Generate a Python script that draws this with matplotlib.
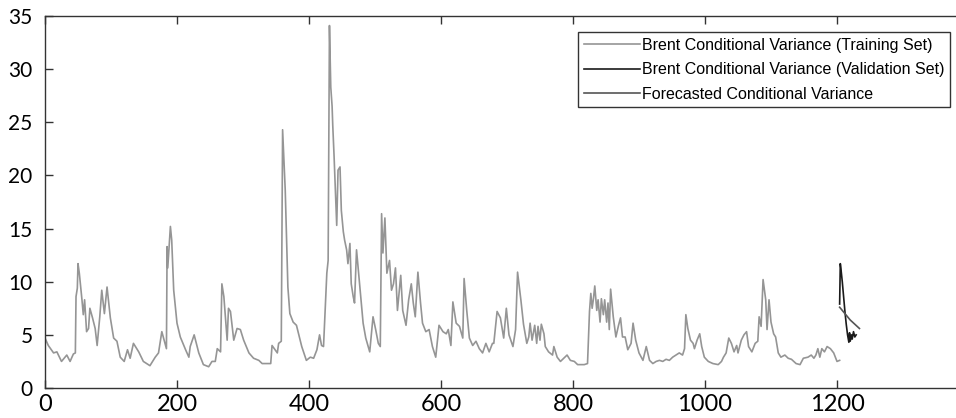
import matplotlib
matplotlib.use("Agg")
import matplotlib.pyplot as plt

# Varianza condicional Brent - conjunto de entrenamiento (vertices)
train_x = [0, 5, 13, 18, 25, 33, 38, 43, 46, 47, 49, 50, 52, 56, 58, 60, 63, 66, 68, 72,
           76, 79, 83, 86, 90, 94, 99, 104, 109, 114, 120, 125, 129, 134, 142, 149, 159, 167, 172, 177,
           184, 185, 186, 190, 192, 195, 200, 205, 213, 218, 220, 226, 233, 240, 248, 253, 258, 261, 266, 268,
           271, 276, 278, 281, 286, 291, 296, 301, 309, 316, 324, 329, 342, 344, 352, 354, 358, 360, 364, 368,
           371, 376, 381, 389, 396, 402, 407, 412, 416, 419, 422, 427, 429, 431, 433, 435, 436, 438, 442, 444,
           447, 449, 452, 454, 457, 459, 462, 464, 467, 469, 472, 477, 482, 486, 492, 497, 501, 505, 508, 510,
           512, 515, 518, 522, 525, 528, 531, 534, 539, 542, 547, 551, 555, 558, 561, 565, 569, 572, 577, 582,
           587, 592, 597, 603, 608, 611, 615, 618, 623, 628, 633, 635, 639, 643, 648, 653, 658, 663, 668, 673,
           678, 680, 685, 690, 695, 699, 703, 709, 713, 716, 721, 725, 730, 733, 735, 738, 742, 745, 747, 750,
           752, 756, 758, 763, 769, 771, 776, 781, 791, 796, 802, 807, 817, 822, 825, 827, 829, 831, 833, 836,
           838, 841, 843, 846, 848, 851, 853, 855, 857, 861, 865, 869, 872, 875, 879, 883, 888, 891, 895, 900,
           906, 911, 916, 921, 926, 931, 936, 941, 946, 951, 956, 961, 966, 969, 971, 974, 978, 982, 984, 988,
           992, 995, 999, 1005, 1012, 1020, 1025, 1028, 1032, 1036, 1040, 1044, 1048, 1050, 1055, 1059, 1063, 1066, 1071, 1076,
           1080, 1082, 1085, 1088, 1092, 1094, 1097, 1100, 1104, 1107, 1111, 1115, 1121, 1126, 1131, 1138, 1144, 1149, 1156, 1161,
           1165, 1168, 1171, 1174, 1177, 1181, 1185, 1190, 1195, 1200, 1204]
train_y = [4.7, 4.0, 3.3, 3.4, 2.5, 3.1, 2.5, 3.2, 3.3, 8.6, 9.4, 11.7, 10.8, 8.3, 6.9, 8.3, 5.3, 5.6, 7.5, 6.6,
           5.6, 4.0, 6.7, 9.2, 7.0, 9.5, 6.6, 4.7, 4.4, 2.9, 2.5, 3.6, 2.8, 4.2, 3.4, 2.5, 2.1, 2.9, 3.3, 5.3,
           3.7, 13.3, 11.3, 15.2, 13.9, 9.2, 6.1, 4.8, 3.6, 2.9, 3.9, 5.0, 3.3, 2.2, 2.0, 2.5, 2.5, 3.7, 3.4, 9.8,
           8.6, 4.5, 7.5, 7.2, 4.5, 5.6, 5.5, 4.5, 3.3, 2.8, 2.6, 2.3, 2.3, 4.0, 3.3, 4.2, 4.4, 24.3, 18.6, 9.5,
           7.0, 6.2, 5.9, 3.9, 2.6, 2.9, 2.8, 3.6, 5.0, 4.0, 3.9, 10.8, 12.0, 34.1, 28.3, 26.5, 24.7, 21.8, 15.3, 20.5,
           20.8, 16.7, 14.7, 13.9, 13.0, 11.7, 13.6, 9.8, 8.6, 8.0, 13.0, 9.5, 6.1, 4.7, 3.4, 6.7, 5.5, 4.2, 3.9, 16.4,
           12.7, 16.0, 10.8, 12.0, 9.2, 9.8, 11.3, 7.3, 10.6, 7.3, 5.9, 8.3, 9.8, 8.0, 6.7, 10.9, 8.0, 6.1, 5.3, 5.5,
           3.9, 2.9, 5.9, 5.3, 5.1, 5.5, 4.0, 8.1, 6.1, 5.8, 4.7, 10.3, 7.3, 4.7, 4.0, 4.4, 3.7, 3.3, 4.2, 3.4,
           4.2, 4.2, 7.2, 6.6, 4.7, 7.5, 5.0, 3.9, 5.5, 10.9, 8.3, 6.0, 4.2, 4.8, 6.1, 4.5, 5.9, 4.2, 5.8, 4.5,
           6.0, 5.1, 3.9, 3.4, 3.1, 3.9, 2.9, 2.5, 3.1, 2.6, 2.5, 2.2, 2.2, 2.3, 7.2, 8.9, 7.5, 8.4, 9.6, 7.3,
           8.3, 6.2, 8.4, 6.9, 8.3, 6.2, 8.0, 5.5, 9.3, 6.7, 4.8, 5.9, 6.6, 4.8, 4.8, 3.6, 4.2, 6.1, 4.5, 3.3,
           2.6, 3.9, 2.6, 2.3, 2.5, 2.6, 2.5, 2.7, 2.6, 2.9, 3.1, 3.3, 3.1, 3.7, 6.9, 5.6, 4.5, 4.2, 3.7, 4.5,
           5.1, 3.9, 2.9, 2.5, 2.3, 2.2, 2.5, 2.9, 3.3, 4.7, 4.2, 3.4, 4.0, 3.3, 4.5, 5.0, 5.3, 3.9, 3.4, 4.2,
           4.4, 6.7, 5.8, 10.2, 8.3, 5.5, 8.3, 6.2, 5.1, 4.8, 3.3, 2.9, 3.1, 2.8, 2.7, 2.3, 2.2, 2.8, 2.9, 3.1,
           2.8, 3.1, 3.7, 2.9, 3.7, 3.4, 3.9, 3.7, 3.3, 2.5, 2.6]

# Conjunto de validacao
val_x = [1204, 1205, 1206, 1208, 1210, 1212, 1214, 1216, 1218, 1219, 1220, 1222, 1223, 1225, 1227, 1229]
val_y = [7.9, 11.7, 11.2, 10.0, 8.6, 7.2, 6.0, 5.0, 4.3, 5.2, 4.4, 5.0, 4.6, 5.3, 4.8, 5.0]

# Previsao
fc_x = [1204, 1212, 1220, 1227, 1234]
fc_y = [7.6, 7.0, 6.4, 6.0, 5.6]

x_ticks = [0, 200, 400, 600, 800, 1000, 1200]
y_ticks = [0, 5, 10, 15, 20, 25, 30, 35]

fig = plt.figure(figsize=(9.56, 4.18), dpi=100)
ax = fig.add_axes([45 / 956, 30 / 418, 924 / 956, 372 / 418])

ax.plot(train_x, train_y, color="#959595", lw=1.2, label="Brent Conditional Variance (Training Set)")
ax.plot(val_x, val_y, color="#1a1a1a", lw=1.2, label="Brent Conditional Variance (Validation Set)")
ax.plot(fc_x, fc_y, color="#555555", lw=1.2, label="Forecasted Conditional Variance")

ax.set_xlim(0, 1400)
ax.set_ylim(0, 35)
ax.set_xticks(x_ticks)
ax.set_yticks(y_ticks)
ax.set_xticklabels([str(v) for v in x_ticks], fontfamily="Lato", fontsize=17)
ax.set_yticklabels([str(v) for v in y_ticks], fontfamily="Lato", fontsize=15)
ax.tick_params(direction="in", length=6, width=1, color="#333333", top=True, right=False)
ax.tick_params(axis="x", pad=4)
ax.tick_params(axis="y", pad=9)
for s in ax.spines.values():
    s.set_color("#333333")
    s.set_linewidth(1)
ax.spines["right"].set_visible(False)

leg = ax.legend(loc="upper right", bbox_to_anchor=(950 / 956, 1 - 32 / 418), bbox_transform=fig.transFigure,
                prop={"family": "Liberation Sans", "size": 11.5}, handlelength=3.5, handletextpad=0.15,
                labelspacing=0.6, borderpad=0.35, borderaxespad=0, fancybox=False, framealpha=1)
leg.get_frame().set_edgecolor("#333333")
leg.get_frame().set_linewidth(1)

fig.savefig("out.png", dpi=100)
